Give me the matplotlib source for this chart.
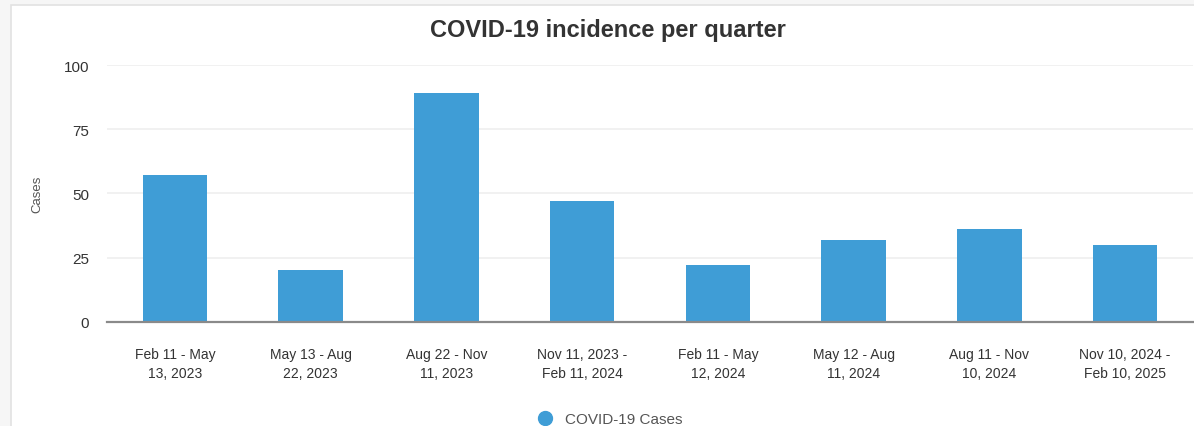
import matplotlib.pyplot as plt
from matplotlib.patches import Rectangle
from matplotlib.lines import Line2D

plt.rcParams['font.family'] = ['Liberation Sans', 'DejaVu Sans']

# === DATA ===
periods = [
    "Feb 11 - May\n13, 2023",
    "May 13 - Aug\n22, 2023",
    "Aug 22 - Nov\n11, 2023",
    "Nov 11, 2023 -\nFeb 11, 2024",
    "Feb 11 - May\n12, 2024",
    "May 12 - Aug\n11, 2024",
    "Aug 11 - Nov\n10, 2024",
    "Nov 10, 2024 -\nFeb 10, 2025",
]
cases = [57, 20, 89, 47, 22, 32, 36, 30]
y_ticks = [0, 25, 50, 75, 100]

bar_color = "#3f9dd6"
text_color = "#333333"
tick_color = "#555555"

fig = plt.figure(figsize=(11.94, 4.27), dpi=100)
fig.patch.set_facecolor("#f6f6f6")

# white card behind the chart
card = Rectangle((11 / 1194, -0.05), 1.2, 1 - 6 / 427 + 0.05,
                 transform=fig.transFigure, facecolor="white",
                 edgecolor="#e2e2e2", linewidth=1.2, zorder=-10)
fig.patches.append(card)

ax = fig.add_axes([107 / 1194, 104.3 / 427, 1086 / 1194, 256.5 / 427])
ax.set_facecolor("none")

x = range(len(periods))
ax.bar(x, cases, width=0.475, color=bar_color, zorder=3)

ax.set_xlim(-0.5, len(periods) - 0.5)
ax.set_ylim(0, 100)
ax.set_yticks(y_ticks)
ax.set_xticks(list(x))
ax.set_xticklabels(periods, fontsize=10, color=text_color, linespacing=1.45)
ax.tick_params(axis='y', labelsize=11, colors=text_color, length=0, pad=13)
ax.tick_params(axis='x', length=0, pad=18)

ax.grid(axis='y', color="#f0f0f0", linewidth=1.3, zorder=0)
for side in ['top', 'right', 'left']:
    ax.spines[side].set_visible(False)
ax.spines['bottom'].set_color("#8a8a8a")
ax.spines['bottom'].set_linewidth(1.6)
ax.spines['bottom'].set_zorder(4)

ax.set_ylabel("Cases", fontsize=9.5, color=tick_color)
ax.yaxis.set_label_coords(-0.059, 0.5)

fig.text(608 / 1194, 1 - 30 / 427, "COVID-19 incidence per quarter",
         ha='center', va='center', fontsize=17, fontweight='bold',
         color=text_color)

handle = Line2D([], [], marker='o', linestyle='none', markersize=10,
                markerfacecolor=bar_color, markeredgecolor=bar_color)
fig.legend([handle], ["COVID-19 Cases"], loc='center',
           bbox_to_anchor=(606 / 1194, 1 - 420 / 427), frameon=False,
           fontsize=11, labelcolor=tick_color, handletextpad=0.3)

fig.savefig("out.png", dpi=100, facecolor=fig.get_facecolor())
